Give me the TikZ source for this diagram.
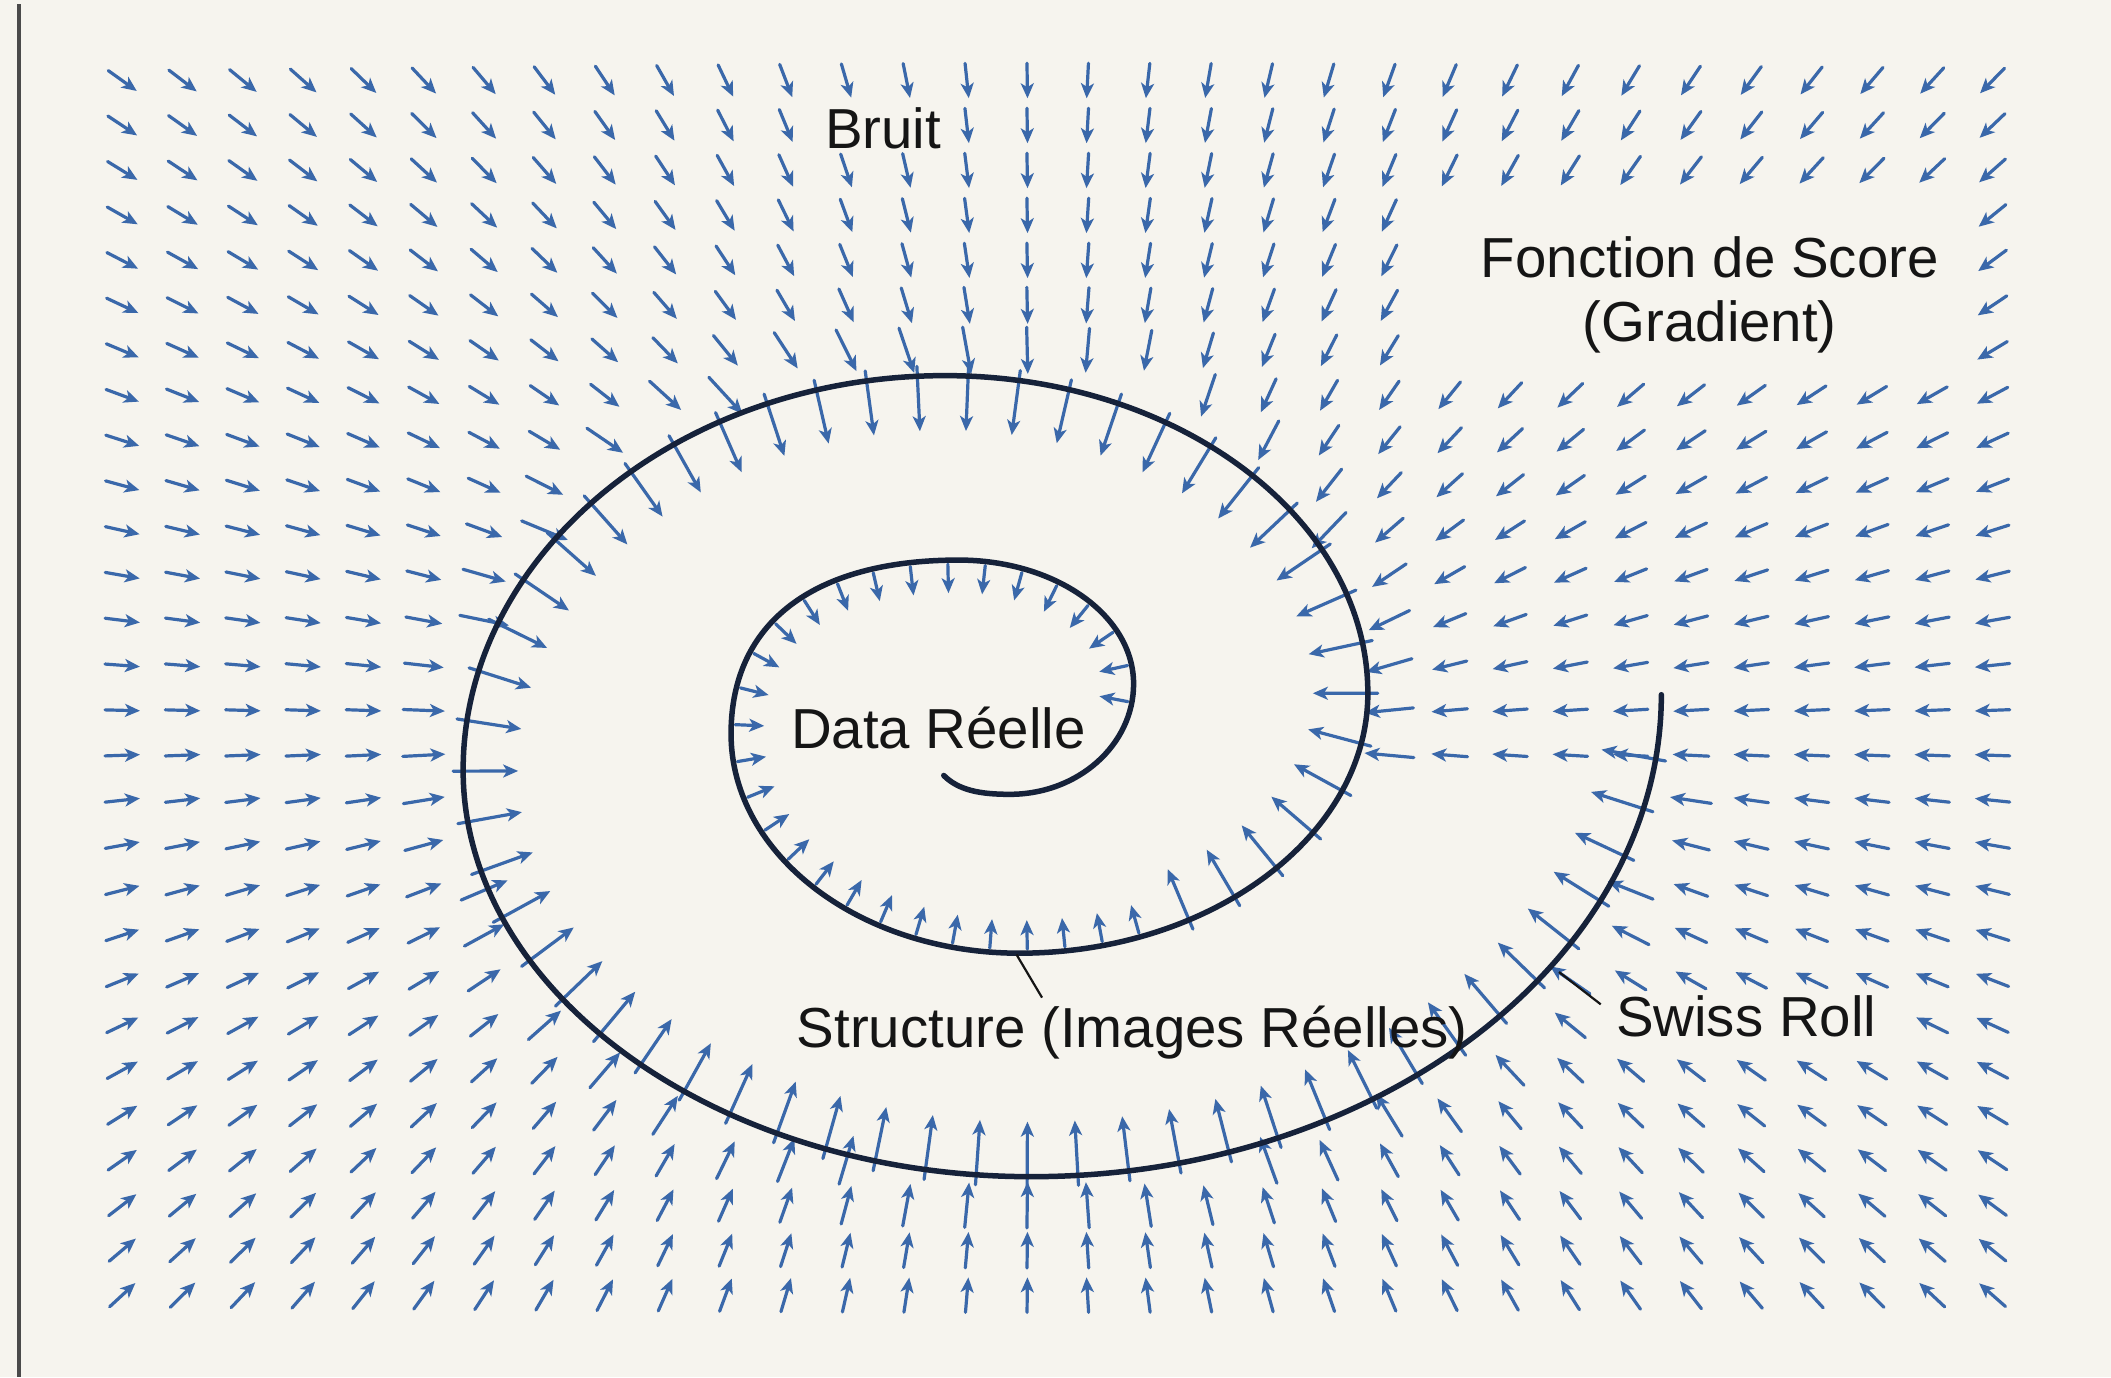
\documentclass[tikz,border=0pt]{standalone}
\usepackage{fontspec}
\setmainfont{Liberation Sans}
\usetikzlibrary{arrows.meta,decorations.markings}

\definecolor{paper}{HTML}{F6F4EE}
\definecolor{fieldblue}{HTML}{3A68AA}
\definecolor{spiralnavy}{HTML}{16223A}
\definecolor{inkdark}{HTML}{151515}
\definecolor{framegray}{HTML}{4A4A4A}

\newif\ifskiparrow
% radius of the outer edge of the roll (seen from its centre), every 10 degrees
\newcommand\outerR[1]{\ifcase#1 539\or 331\or 338\or 337\or 330\or 324\or 323\or 310\or 300\or 296\or 298\or 303\or 309\or 316\or 320\or 330\or 340\or 345\or 345\or 339\or 328\or 316\or 307\or 300\or 292\or 284\or 286\or 292\or 302\or 318\or 336\or 365\or 400\or 440\or 477\or 512\or 539\else 539\fi}

\begin{document}
\begin{tikzpicture}[x=1.3463pt,y=-1.3463pt,
  fieldarrow/.style={draw=fieldblue, line width=3.2pt, line cap=round,
    -{Stealth[length=15pt,width=13pt,inset=4pt]}},
  spiral/.style={draw=spiralnavy, line width=5.5pt, line cap=round, line join=round},
  lbl/.style={font=\fontsize{56.4}{65}\selectfont, text=inkdark, inner sep=0pt, anchor=base},
  leader/.style={draw=inkdark, line width=2.2pt},
  frameline/.style={draw=framegray, line width=4pt}]

% paper
\fill[paper] (0,0) rectangle (1568,1023);
\useasboundingbox (0,0) rectangle (1568,1023);
\draw[frameline] (14,3) -- (14,1023);

% score field on a regular grid, outside the roll
\foreach \i in {0,...,31}{%
  \foreach \j in {0,...,27}{%
    \edef\gx{\fpeval{91+44.8*\i}}%
    \edef\gy{\fpeval{60+33.4*\j}}%
    \edef\ang{\fpeval{atand(575-\gy,\gx-690)}}%
    \edef\ang{\fpeval{(\ang)<0 ? (\ang)+360 : (\ang)}}%
    \edef\idx{\fpeval{trunc((\ang)/10)}}%
    \edef\idn{\fpeval{\idx+1}}%
    \edef\frc{\fpeval{(\ang)/10-\idx}}%
    \edef\Rb{\fpeval{((\ang)>1.5 && (\ang)<10) ? 331 : \outerR{\idx}*(1-(\frc))+\outerR{\idn}*(\frc)}}%
    \edef\rr{\fpeval{sqrt((\gx-690)^2+(575-\gy)^2)}}%
    \skiparrowfalse
    \ifnum\fpeval{(\rr)<(\Rb)+6}=1 \skiparrowtrue\fi
    % keep the labels clear
    \ifnum\j=1 \ifnum\i>11 \ifnum\i<14 \skiparrowtrue\fi\fi\fi
    \ifnum\j>2 \ifnum\j<7 \ifnum\i>21 \ifnum\i<31 \skiparrowtrue\fi\fi\fi\fi
    \ifnum\j=21 \ifnum\i>24 \ifnum\i<30 \skiparrowtrue\fi\fi\fi
    \ifskiparrow\else
      \edef\ux{\fpeval{770-\gx}}%
      \edef\kk{\fpeval{(\gx<770 && \gy<545) ? 1 : 1.5}}%
      \edef\uy{\fpeval{(\kk)*(545-\gy)}}%
      \edef\un{\fpeval{sqrt((\ux)^2+(\uy)^2)}}%
      \edef\len{\fpeval{26+12*exp(-(((\rr)-(\Rb))/35)^2)}}%
      \edef\hx{\fpeval{0.5*(\len)*(\ux)/(\un)}}%
      \edef\hy{\fpeval{0.5*(\len)*(\uy)/(\un)}}%
      \edef\sx{\fpeval{round(\gx-(\hx),2)}}%
      \edef\sy{\fpeval{round(\gy-(\hy),2)}}%
      \edef\ex{\fpeval{round(\gx+(\hx),2)}}%
      \edef\ey{\fpeval{round(\gy+(\hy),2)}}%
      \draw[fieldarrow] (\sx,\sy) -- (\ex,\ey);
    \fi
  }%
}

% the swiss roll, with the field arrows attached along its inner side
\draw[spiral, preaction={decorate, decoration={markings,
    mark=between positions 236pt and 1342pt step 38pt with {\draw[fieldarrow] (0pt,4pt) -- (0pt,33pt);},
    mark=between positions 1390pt and -15pt step 51pt with {\draw[fieldarrow] (0pt,-10pt) -- (0pt,55pt);}}}]
  (701,576) .. controls (712,587) and (728,590) .. (750,590)
  .. controls (801,590) and (842,553) .. (842,508)
  .. controls (842,457) and (784,416) .. (712,416)
  .. controls (605,416) and (543,462) .. (543,545)
  .. controls (543,635) and (639,708) .. (757,708)
  .. controls (899,708) and (1016,621) .. (1016,515)
  .. controls (1016,385) and (875,279) .. (702,279)
  .. controls (505,279) and (344,411) .. (344,572)
  .. controls (344,738) and (534,874) .. (766,874)
  .. controls (1023,874) and (1234,713) .. (1234,516);

% labels
\node[lbl] (bruit) at (656,110) {Bruit};
\node[lbl] (score) at (1270,206) {Fonction de Score};
\node[lbl] (gradient) at (1270,254) {(Gradient)};
\node[lbl] (data) at (697,556) {Data Réelle};
\node[lbl] (structure) at (841,778) {Structure (Images Réelles)};
\node[lbl] (swiss) at (1297,770) {Swiss Roll};

% leader lines from the curve to their labels
\coordinate (structtip) at (755,709);
\coordinate (structfoot) at (774,741);
\draw[leader] (structtip) -- (structfoot);
\coordinate (swisstip) at (1158,722);
\coordinate (swissfoot) at (1189,746);
\draw[leader] (swisstip) -- (swissfoot);
\end{tikzpicture}
\end{document}
